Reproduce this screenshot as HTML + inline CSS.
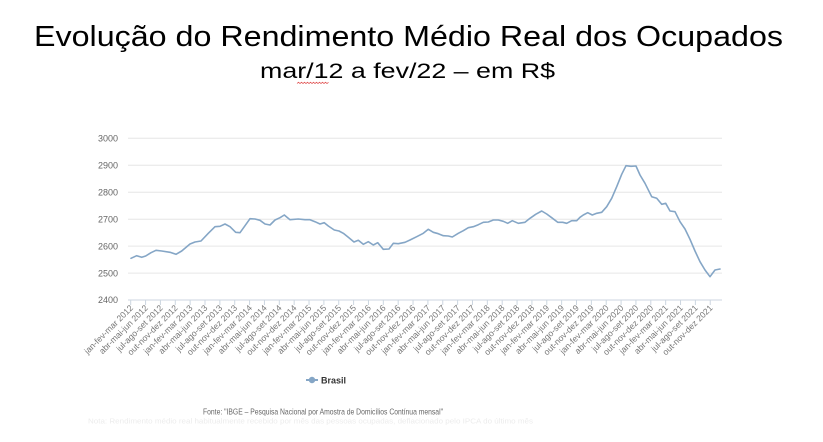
<!DOCTYPE html>
<html>
<head>
<meta charset="utf-8">
<style>
html,body{margin:0;padding:0;background:#fff;}
body{width:823px;height:442px;overflow:hidden;}
svg{display:block;}
</style>
</head>
<body>
<svg width="823" height="442" viewBox="0 0 823 442" xmlns="http://www.w3.org/2000/svg">
<rect width="823" height="442" fill="#fff"/>
<!-- Titles -->
<text x="34" y="46" font-family="Liberation Sans, sans-serif" font-size="29" fill="#000" textLength="749" lengthAdjust="spacingAndGlyphs">Evolução do Rendimento Médio Real dos Ocupados</text>
<text x="260" y="78" font-family="Liberation Sans, sans-serif" font-size="21" fill="#000" textLength="295" lengthAdjust="spacingAndGlyphs">mar/12 a fev/22 – em R$</text>
<path d="M297 83.5 l1.5 -1.2 l1.5 1.2 l1.5 -1.2 l1.5 1.2 l1.5 -1.2 l1.5 1.2 l1.5 -1.2 l1.5 1.2 l1.5 -1.2 l1.5 1.2 l1.5 -1.2 l1.5 1.2 l1.5 -1.2 l1.5 1.2 l1.5 -1.2 l1.5 1.2 l1.5 -1.2 l1.5 1.2 l1.5 -1.2 l1.5 1.2 l1.5 -1.2" fill="none" stroke="#e05050" stroke-width="0.8"/>

<!-- Gridlines -->
<g stroke="#e6e6e6" stroke-width="1">
<line x1="128" y1="138.3" x2="722" y2="138.3"/>
<line x1="128" y1="165.3" x2="722" y2="165.3"/>
<line x1="128" y1="192.2" x2="722" y2="192.2"/>
<line x1="128" y1="219.2" x2="722" y2="219.2"/>
<line x1="128" y1="246.1" x2="722" y2="246.1"/>
<line x1="128" y1="273.1" x2="722" y2="273.1"/>
</g>
<line x1="128" y1="300" x2="722" y2="300" stroke="#ccd6e0" stroke-width="1"/>

<!-- Y labels -->
<g font-family="Liberation Sans, sans-serif" font-size="9" fill="#666" text-anchor="end">
<text x="118" y="141.5">3000</text>
<text x="118" y="168.5">2900</text>
<text x="118" y="195.4">2800</text>
<text x="118" y="222.4">2700</text>
<text x="118" y="249.3">2600</text>
<text x="118" y="276.3">2500</text>
<text x="118" y="303.2">2400</text>
</g>

<!-- Ticks and X labels -->
<g id="xt" stroke="#ccd6e0" stroke-width="1"></g>
<g id="xl" font-family="Liberation Sans, sans-serif" font-size="8.6" fill="#777" text-anchor="end"></g>

<!-- Series -->
<polyline fill="none" stroke="#85a6c6" stroke-width="1.6" stroke-linejoin="round" stroke-linecap="round" points="131,258.3 136.7,255.7 141.7,257.3 145.7,256 151,252.7 156,250.3 161.7,251 170,252.3 176,254.3 181.7,251 190,244 195,242 201,241 208.3,233.3 215,226.7 220,226.3 225,224 230,226.7 235.7,232.3 240,232.7 244.3,226.7 250,218.7 255,219 260,220.3 265,224 270,225 275,220 280,217.7 284.3,215 290,219.7 298.3,219 305,219.7 310,219.7 315,221.7 320,224 324.3,222.7 328.3,226 334.3,230 339,231 343.3,233.3 348.3,237.3 354,242 358.3,240.3 363.3,244.3 368.3,241.7 373.3,245 377.7,242.7 383.3,249.3 389,249 393.3,243.3 398.3,243.7 405,242.3 410,240 416.7,236.7 423.3,233.3 428.3,229.3 433.3,232.3 438.3,233.7 443.3,235.7 448.3,236 452.3,237 458.3,233.3 463.3,230.7 468.3,227.7 473.3,226.7 478.3,224.7 483.3,222.3 488.3,222 493.3,220 498.3,220 503.3,221.3 507.7,223.3 512.3,220.7 518.3,223.3 525,222.3 530,218.3 535.7,214.3 541.7,211 546.7,214 551.7,217.7 557.7,222.3 562.7,222.3 566.7,223.3 571.7,220.7 576.7,220.7 580,217.3 583.3,215 587.7,212.7 592.3,215 596.7,213.3 601.7,212.3 606.7,206.7 611.7,198.3 616.7,186.7 621.7,174.3 626,165.7 631,166.3 636,166 640,175 645,183.3 650,193.3 651.7,196.7 656.7,198.3 661.7,204.3 665.7,203.3 670,211 675,211.7 680,221.7 685,229 690,239.3 695,251 700,261.7 705,270 710,276.7 715,270 720,269"/>

<!-- Legend -->
<line x1="306" y1="380" x2="318" y2="380" stroke="#85a6c6" stroke-width="2"/>
<circle cx="312" cy="380" r="3.2" fill="#85a6c6"/>
<text x="321" y="383.3" font-family="Liberation Sans, sans-serif" font-size="9" font-weight="bold" fill="#333">Brasil</text>

<!-- Source -->
<text x="203" y="414.5" font-family="Liberation Sans, sans-serif" font-size="8.2" fill="#666" textLength="240" lengthAdjust="spacingAndGlyphs">Fonte: "IBGE – Pesquisa Nacional por Amostra de Domicílios Contínua mensal"</text>
<text x="88" y="423.5" font-family="Liberation Sans, sans-serif" font-size="7" fill="#ececec" textLength="445" lengthAdjust="spacingAndGlyphs">Nota: Rendimento médio real habitualmente recebido por mês das pessoas ocupadas, deflacionado pelo IPCA do último mês</text>
</svg>
<script>
(function(){
  var ns="http://www.w3.org/2000/svg";
  var xt=document.getElementById("xt"), xl=document.getElementById("xl");
  var q=["jan-fev-mar","abr-mai-jun","jul-ago-set","out-nov-dez"];
  for(var k=0;k<40;k++){
    var x=130.7+14.86*k;
    var l=document.createElementNS(ns,"line");
    l.setAttribute("x1",x);l.setAttribute("x2",x);
    l.setAttribute("y1",300);l.setAttribute("y2",305);
    xt.appendChild(l);
    var t=document.createElementNS(ns,"text");
    var ax=x+3, ay=308.5;
    t.setAttribute("x",ax);t.setAttribute("y",ay);
    t.setAttribute("transform","rotate(-45 "+ax+" "+ay+")");
    t.textContent=q[k%4]+" "+(2012+Math.floor(k/4));
    xl.appendChild(t);
  }
})();
</script>
</body>
</html>
